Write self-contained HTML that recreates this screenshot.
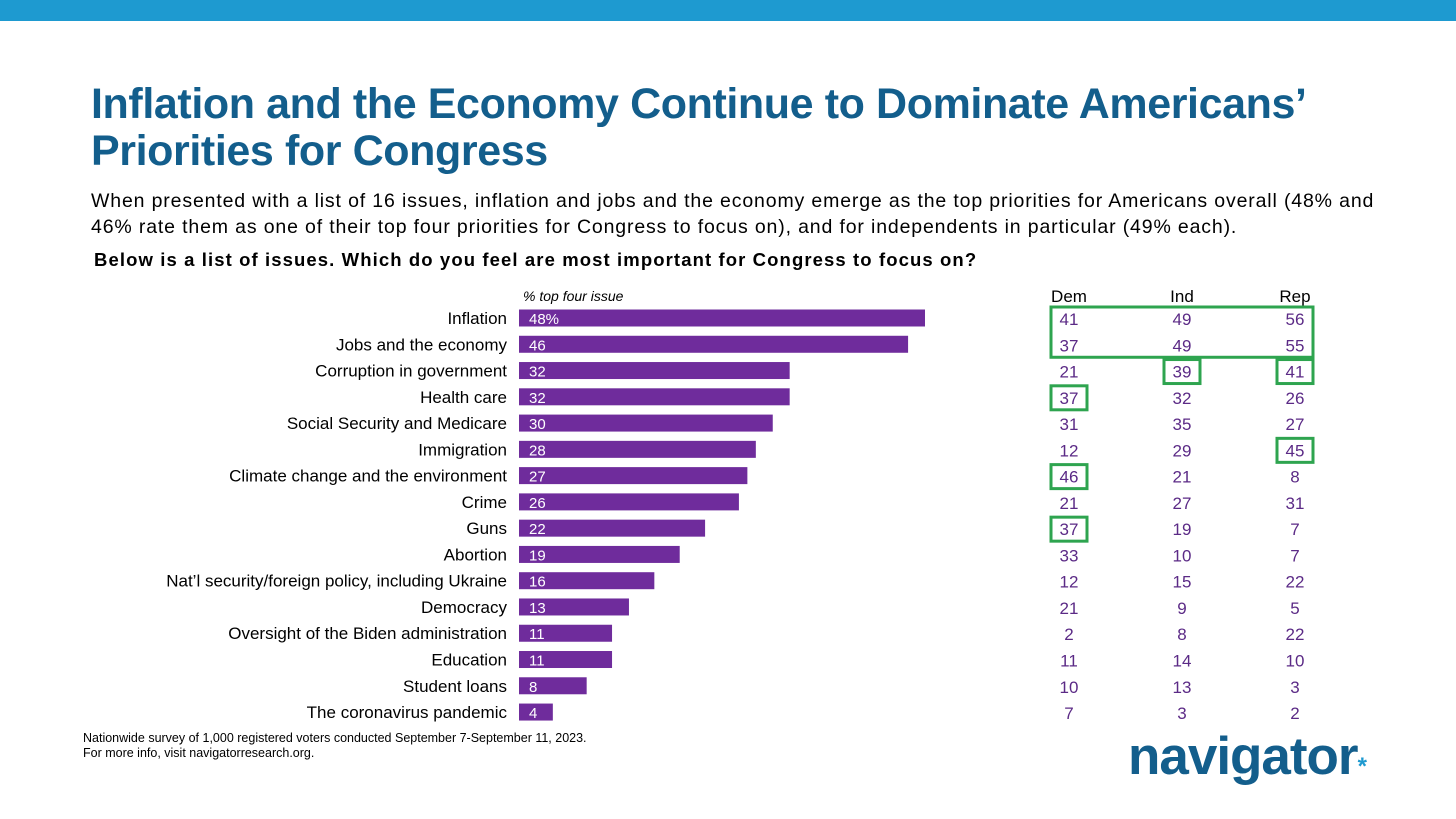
<!DOCTYPE html>
<html><head><meta charset="utf-8"><style>
body{margin:0;width:1456px;height:819px;background:#fff;font-family:"Liberation Sans",sans-serif;position:relative;overflow:hidden}
.t{position:absolute;white-space:nowrap}
</style></head><body>
<div style="position:absolute;left:0;top:0;width:1456px;height:21px;background:#1e9ad0"></div>
<div class="t" style="left:91px;top:81px;font-size:43px;line-height:47px;font-weight:bold;color:#135e8c;letter-spacing:-0.4px">Inflation and the Economy Continue to Dominate Americans’<br>Priorities for Congress</div>
<div class="t" style="left:91px;top:188px;font-size:19.5px;line-height:26px;color:#000;letter-spacing:0.85px">When presented with a list of 16 issues, inflation and jobs and the economy emerge as the top priorities for Americans overall (48% and<br>46% rate them as one of their top four priorities for Congress to focus on), and for independents in particular (49% each).</div>
<div class="t" style="left:94px;top:249px;font-size:18.5px;font-weight:bold;color:#000;letter-spacing:1.1px">Below is a list of issues. Which do you feel are most important for Congress to focus on?</div>
<svg id="chart" width="1456" height="819" style="position:absolute;left:0;top:0" font-family="Liberation Sans, sans-serif"></svg>
<div class="t" style="left:83px;top:731px;font-size:12.5px;line-height:15px;color:#000">Nationwide survey of 1,000 registered voters conducted September 7-September 11, 2023.<br>For more info, visit navigatorresearch.org.</div>
<div class="t" style="left:1128px;top:726px;font-size:53px;font-weight:bold;color:#135e8c;letter-spacing:-1px">navigator<span style="color:#1e9ad0;font-size:24px">*</span></div>
<script>
const categories=["Inflation","Jobs and the economy","Corruption in government","Health care","Social Security and Medicare","Immigration","Climate change and the environment","Crime","Guns","Abortion","Nat’l security/foreign policy, including Ukraine","Democracy","Oversight of the Biden administration","Education","Student loans","The coronavirus pandemic"];
const overall=[48,46,32,32,30,28,27,26,22,19,16,13,11,11,8,4];
const dem=[41,37,21,37,31,12,46,21,37,33,12,21,2,11,10,7];
const ind=[49,49,39,32,35,29,21,27,19,10,15,9,8,14,13,3];
const rep=[56,55,41,26,27,45,8,31,7,7,22,5,22,10,3,2];
const ns="http://www.w3.org/2000/svg",svg=document.getElementById('chart');
const x0=519,k=406/48,y0=318,step=26.27,bh=17;
const xs=v=>x0+v*k, yc=i=>y0+i*step;
function mk(t,a,txt){const e=document.createElementNS(ns,t);for(const q in a)e.setAttribute(q,a[q]);if(txt!==undefined)e.textContent=txt;svg.appendChild(e);return e;}
const h=mk('text',{x:523,y:301,'font-size':14,'font-style':'italic',fill:'#000'},'% top four issue');


[['Dem',1069],['Ind',1182],['Rep',1295]].forEach(([n,x])=>{const e=mk('text',{x:x,y:302,'font-size':17,'text-anchor':'middle',fill:'#000'},n);

});
categories.forEach((c,i)=>{
const y=yc(i);
const l=mk('text',{x:507,y:y+6,'font-size':17,'text-anchor':'end',fill:'#000'},c);


const r=mk('rect',{x:x0,y:y-bh/2,width:xs(overall[i])-x0,height:bh,fill:'#6f2c9c'});


const v=mk('text',{x:x0+10,y:y+6,'font-size':15,fill:'#fff'},i==0?overall[i]+'%':overall[i]);


[[dem,1069],[ind,1182],[rep,1295]].forEach(([arr,x])=>{const t=mk('text',{x:x,y:y+7,'font-size':17,'text-anchor':'middle',fill:'#5b2a86'},arr[i]);

});
});
function box(x1,x2,i1,i2){const b=mk('rect',{x:x1,y:yc(i1)-11,width:x2-x1,height:yc(i2)-yc(i1)+24,fill:'none',stroke:'#2ea44f','stroke-width':3});

}
box(1051,1313,0,1);box(1164,1200,2,2);box(1277,1313,2,2);box(1051,1087,3,3);box(1277,1313,5,5);box(1051,1087,6,6);box(1051,1087,8,8);
</script>
</body></html>
